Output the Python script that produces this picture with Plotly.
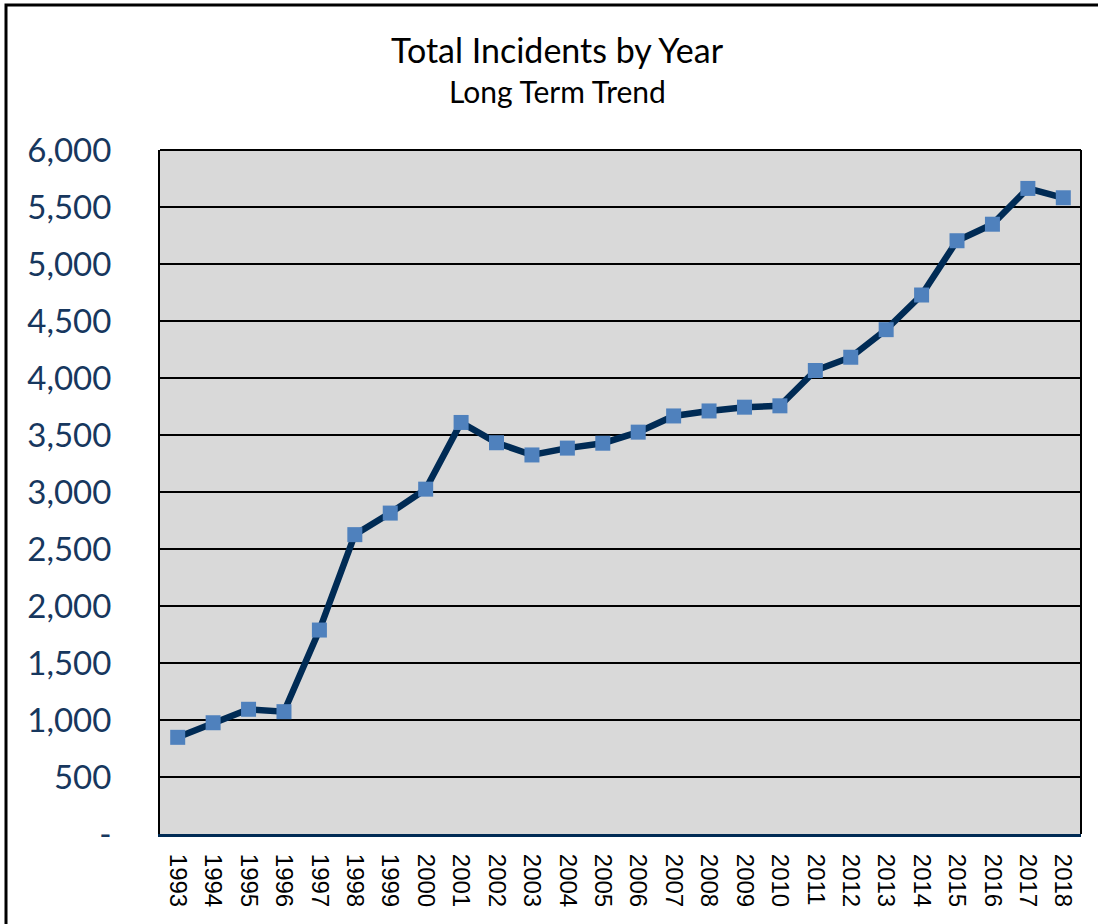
import plotly.graph_objects as go

years = [str(y) for y in range(1993, 2019)]
incidents = [848, 976, 1094, 1073, 1789, 2626, 2815, 3025, 3610, 3432, 3325, 3385,
             3428, 3525, 3667, 3711, 3744, 3756, 4066, 4182, 4424, 4728, 5204, 5349,
             5663, 5581]
y_tickvals = [0, 500, 1000, 1500, 2000, 2500, 3000, 3500, 4000, 4500, 5000, 5500, 6000]
y_ticktext = ["-", "500", "1,000", "1,500", "2,000", "2,500", "3,000", "3,500",
              "4,000", "4,500", "5,000", "5,500", "6,000"]

W, H = 1098, 924
L, R, T, B = 160, 17, 150, 90
pw, ph = W - L - R, H - T - B

def px_x(p):
    return (p - L) / pw

def px_y(p):
    return (H - B - p) / ph

fig = go.Figure()
fig.add_trace(go.Scatter(
    x=years, y=incidents, mode="lines+markers",
    line=dict(color="#002B55", width=6.5),
    marker=dict(symbol="square", size=15, color="#4F81BD",
                line=dict(width=0)),
    showlegend=False,
))

fig.update_layout(
    width=W, height=H,
    margin=dict(l=L, r=R, t=T, b=B),
    paper_bgcolor="white",
    plot_bgcolor="#D9D9D9",
    font=dict(family="Lato, 'Open Sans', sans-serif"),
    xaxis=dict(
        type="category",
        range=[-0.5, len(years) - 0.5],
        tickangle=90,
        tickfont=dict(size=24, color="black", family="'Liberation Sans', Arial, sans-serif"),
        showgrid=False,
        showline=True, linecolor="#002B55", linewidth=3,
        mirror=False,
        ticks="", ticklabelstandoff=12,
    ),
    yaxis=dict(
        range=[0, 6000],
        tickvals=y_tickvals, ticktext=y_ticktext,
        tickfont=dict(size=33, color="#17375E"),
        showgrid=True, gridcolor="black", gridwidth=1.5,
        showline=True, linecolor="black", linewidth=2,
        ticks="", ticklabelstandoff=40,
        zeroline=False,
    ),
    shapes=[
        dict(type="line", xref="paper", yref="paper", x0=0, x1=1, y0=1, y1=1,
             line=dict(color="black", width=2)),
        dict(type="line", xref="paper", yref="paper", x0=1, x1=1, y0=0, y1=1,
             line=dict(color="black", width=2)),
        dict(type="rect", xref="paper", yref="paper",
             x0=px_x(6), x1=px_x(1110), y0=px_y(940), y1=px_y(5),
             line=dict(color="black", width=3), fillcolor="rgba(0,0,0,0)",
             layer="above"),
    ],
    annotations=[
        dict(text="Total Incidents by Year", xref="paper", yref="paper",
             x=px_x(557), y=px_y(49), xanchor="center", yanchor="middle",
             showarrow=False, font=dict(size=34, color="black")),
        dict(text="Long Term Trend", xref="paper", yref="paper",
             x=px_x(557), y=px_y(91), xanchor="center", yanchor="middle",
             showarrow=False, font=dict(size=30, color="black")),
    ],
)

fig.write_html("out.html", config={"displayModeBar": False},
               post_script="document.body.style.margin='0';")
